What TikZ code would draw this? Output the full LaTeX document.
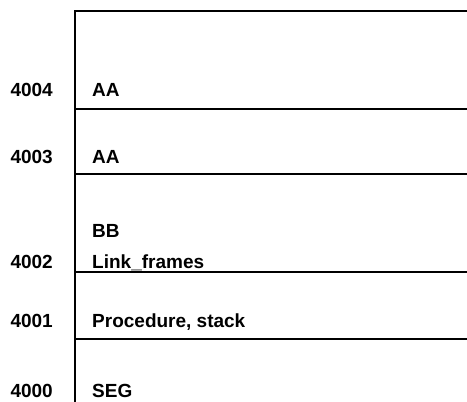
\documentclass[tikz,border=0pt]{standalone}
\usepackage{fontspec}
\setmainfont{Liberation Sans}
\begin{document}
\begin{tikzpicture}[x=1pt,y=-1pt,
  rule/.style={line width=1.8pt},
  addr/.style={anchor=base east,inner sep=0pt,font=\fontsize{19}{21}\selectfont\bfseries},
  cont/.style={anchor=base west,inner sep=0pt,align=left,font=\fontsize{19}{22}\selectfont\bfseries}]
\useasboundingbox (0,0) rectangle (467,402);
% stack frame
\draw[rule] (467,11) -- (75,11) -- (75,402);
\draw[rule] (75,109) -- (467,109);
\draw[rule] (75,174) -- (467,174);
\draw[rule] (75,272) -- (467,272);
\draw[rule] (75,339) -- (467,339);
% addresses
\node[addr] (a4) at (53,96) {4004};
\node[addr] (a3) at (53,163) {4003};
\node[addr] (a2) at (53,268) {4002};
\node[addr] (a1) at (53,327) {4001};
\node[addr] (a0) at (53,397) {4000};
% contents
\node[cont] (c4) at (92,96) {AA};
\node[cont] (c3) at (92,163) {AA};
\node[cont] (c2b) at (92,237) {BB};
\node[cont] (c2) at (92,268) {Link\_frames};
\node[cont] (c1) at (92,327) {Procedure, stack};
\node[cont] (c0) at (92,397) {SEG};
\end{tikzpicture}
\end{document}
